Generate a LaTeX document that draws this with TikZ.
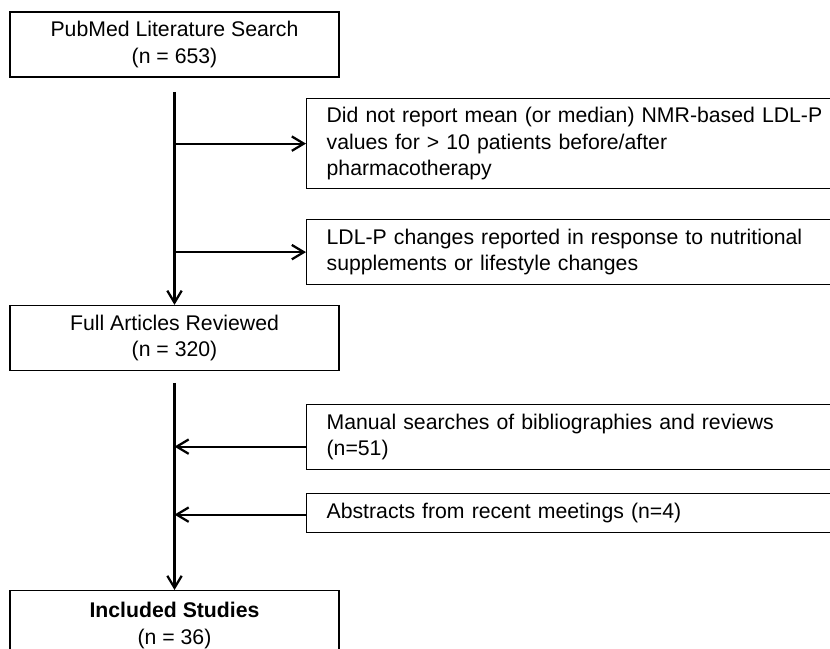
\documentclass[tikz,border=0pt]{standalone}
\usepackage{fontspec}
\setmainfont{Liberation Sans}
\usetikzlibrary{arrows.meta,positioning}
\tikzset{
  stagebox/.style={draw, line width=0.9pt, minimum width=8.225cm, minimum height=1.625cm,
    inner sep=0pt, align=center, font=\fontsize{15.1}{18.8}\selectfont},
  sidebox/.style={draw, line width=0.9pt, anchor=north west, minimum width=15cm,
    inner xsep=0.33cm, inner ysep=0pt, text width=14cm, align=left,
    font=\fontsize{15.1}{18.8}\selectfont},
  flow/.style={line width=1.6pt, -{Straight Barb[length=0.3cm, width=0.36cm, line width=1.6pt]}}
}
\begin{document}
\begin{tikzpicture}[x=0.025cm, y=-0.025cm]
\useasboundingbox (0,0) rectangle (830,649);
\clip (0,0) rectangle (830,649);
% main stages
\node[stagebox] (search) at (174.5,44.5) {PubMed Literature Search\\(n = 653)};
\node[stagebox] (full) at (174.5,338) {Full Articles Reviewed\\(n = 320)};
\node[stagebox, anchor=north, minimum height=1.75cm] (incl) at (174.5,590) {\textbf{Included Studies}\\(n = 36)};
% side boxes
\node[sidebox, minimum height=2.25cm] (noreport) at (306,98) {Did not report mean (or median) NMR-based LDL-P\\values for > 10 patients before/after\\pharmacotherapy};
\node[sidebox, minimum height=1.625cm] (lifestyle) at (306,219) {LDL-P changes reported in response to nutritional\\supplements or lifestyle changes};
\node[sidebox, minimum height=1.625cm] (manual) at (306,404) {Manual searches of bibliographies and reviews\\(n=51)};
\node[sidebox, minimum height=0.975cm] (abstr) at (306,493) {Abstracts from recent meetings (n=4)};
% trunks
\coordinate (top1) at (search.south |- 0,92);
\coordinate (top2) at (full.south |- 0,383);
\draw[flow] (top1) -- (full.north);
\draw[flow] (top2) -- (incl.north);
% excluded records
\foreach \side in {noreport,lifestyle}
  \draw[flow] (search.south |- \side.west) -- (\side.west);
% added records
\path (manual.west) ++(0,9.5) coordinate (man0);
\path (abstr.west) ++(0,1.5) coordinate (abs0);
\foreach \src in {man0,abs0}
  \draw[flow] (\src) -- (full.south |- \src);
\end{tikzpicture}
\end{document}
